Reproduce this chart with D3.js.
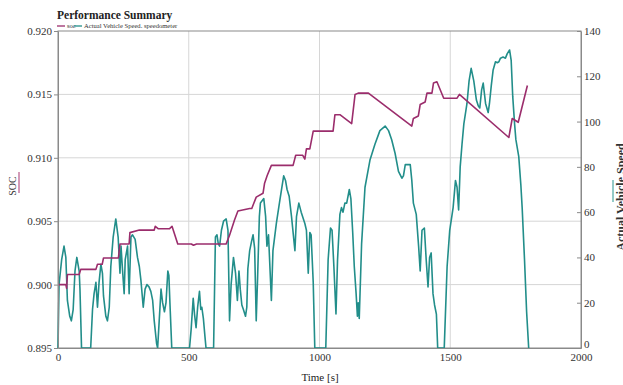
<!DOCTYPE html>
<html>
<head>
<meta charset="utf-8">
<script src="https://cdnjs.cloudflare.com/ajax/libs/d3/7.8.5/d3.min.js"></script>
<style>
  body { margin: 0; background: #fff; }
  svg { display: block; font-family: "Liberation Serif", "DejaVu Serif", serif; }
</style>
</head>
<body>
<script>
var width = 623,
    height = 385;

var margin = {top: 31, right: 42, bottom: 37, left: 58};
var plotW = width - margin.left - margin.right,
    plotH = height - margin.top - margin.bottom;

// SOC (state of charge) over time
var socTime = [0, 30, 33, 36, 81, 87, 145, 151, 169, 174, 231, 237, 272, 275, 311, 368, 372, 384, 426, 436,
  458, 510, 518, 530, 643, 656, 675, 688, 733, 741, 758, 784, 790, 800, 816, 899, 909, 936, 944, 950,
  963, 976, 1052, 1059, 1078, 1123, 1136, 1148, 1187, 1353, 1359, 1378, 1385, 1404, 1411, 1430, 1436, 1449, 1475, 1526,
  1535, 1724, 1737, 1760, 1795];
var socValue = [0.9000, 0.9000, 0.8997, 0.9008, 0.9008, 0.9012, 0.9012, 0.9016, 0.9016, 0.9021, 0.9021, 0.9032, 0.9032, 0.9041, 0.9043, 0.9043, 0.9046, 0.9044, 0.9044, 0.9046,
  0.9032, 0.9032, 0.9031, 0.9032, 0.9032, 0.9039, 0.9051, 0.9058, 0.9060, 0.9060, 0.9069, 0.9072, 0.9080, 0.9086, 0.9094, 0.9094, 0.9102, 0.9102, 0.9099, 0.9107,
  0.9107, 0.9121, 0.9121, 0.9134, 0.9134, 0.9127, 0.9150, 0.9151, 0.9151, 0.9125, 0.9131, 0.9133, 0.9142, 0.9144, 0.9151, 0.9151, 0.9159, 0.9160, 0.9147, 0.9147,
  0.9150, 0.9116, 0.9131, 0.9128, 0.9157];

// actual vehicle speed (speedometer)
var speedTime = [0, 4, 14, 23, 30, 36, 45, 51, 58, 65, 72, 81, 84, 90, 125, 132, 138, 145, 151, 157,
  164, 170, 174, 183, 189, 196, 202, 211, 221, 230, 237, 241, 247, 253, 257, 266, 272, 279, 285, 295,
  304, 311, 317, 326, 333, 340, 348, 355, 362, 368, 377, 381, 386, 394, 400, 407, 413, 420, 424, 428,
  435, 503, 509, 517, 522, 528, 534, 541, 546, 550, 556, 562, 566, 595, 602, 608, 613, 618, 625, 633,
  643, 650, 656, 662, 671, 679, 686, 692, 697, 703, 709, 717, 722, 726, 733, 740, 746, 752, 758, 763,
  770, 774, 787, 794, 799, 805, 816, 822, 835, 848, 863, 870, 876, 884, 893, 906, 912, 921, 930, 944,
  950, 957, 963, 968, 976, 982, 1024, 1033, 1042, 1048, 1055, 1063, 1069, 1078, 1084, 1090, 1097, 1104, 1114, 1120,
  1127, 1133, 1140, 1145, 1148, 1152, 1161, 1174, 1193, 1212, 1231, 1251, 1264, 1276, 1289, 1302, 1315, 1321, 1328, 1347,
  1353, 1359, 1370, 1379, 1385, 1392, 1401, 1408, 1415, 1421, 1427, 1434, 1440, 1447, 1452, 1477, 1488, 1498, 1511, 1520,
  1526, 1532, 1538, 1545, 1552, 1564, 1572, 1580, 1590, 1600, 1607, 1613, 1620, 1626, 1631, 1635, 1645, 1650, 1657, 1664,
  1673, 1680, 1686, 1692, 1702, 1711, 1718, 1727, 1733, 1739, 1746, 1751, 1762, 1770, 1775, 1784, 1792, 1800];
var speedValue = [0, 28, 39, 45, 40, 21, 14, 12, 17, 34, 40, 34, 26, 0, 0, 17, 24, 29, 18, 29,
  37, 33, 23, 14, 12, 18, 36, 49, 57, 49, 33, 45, 34, 24, 39, 45, 24, 49, 50, 48,
  40, 36, 30, 18, 26, 28, 27, 25, 21, 12, 2, 0, 10, 26, 20, 16, 20, 34, 32, 20,
  0, 0, 8, 22, 15, 9, 18, 25, 17, 18, 13, 5, 0, 0, 49, 50, 46, 45, 52, 56,
  57, 52, 12, 28, 40, 33, 21, 34, 26, 19, 17, 14, 18, 35, 43, 47, 50, 44, 12, 30,
  58, 64, 66, 58, 45, 50, 21, 43, 55, 65, 76, 74, 70, 67, 58, 43, 58, 64, 60, 55,
  52, 33, 51, 50, 29, 0, 0, 39, 53, 52, 36, 15, 39, 59, 62, 60, 64, 64, 70, 66,
  51, 36, 24, 14, 20, 13, 46, 71, 83, 90, 96, 98, 96, 92, 86, 78, 75, 76, 81, 81,
  74, 64, 59, 45, 34, 52, 53, 39, 27, 40, 42, 24, 19, 15, 0, 0, 36, 52, 62, 74,
  71, 61, 80, 90, 99, 108, 118, 123.5, 118, 109.5, 107, 106, 114, 117, 112, 108, 104, 108, 116, 122.8,
  126.4, 126, 126.4, 128, 128.5, 128, 130, 131.6, 127, 111, 99, 92, 84.5, 72, 62, 39, 16, 0];

var xTicks = [0, 500, 1000, 1500, 2000];
var socTicks = [0.895, 0.900, 0.905, 0.910, 0.915, 0.920];
var speedTicks = [0, 20, 40, 60, 80, 100, 120, 140];

var socColor = "#9b2d6c",
    speedColor = "#228e8a";

var svg = d3.select("body").append("svg")
    .attr("width", width)
    .attr("height", height);

var x = d3.scaleLinear().domain([0, 2000]).range([margin.left, margin.left + plotW]);
var ySoc = d3.scaleLinear().domain([0.895, 0.920]).range([margin.top + plotH, margin.top]);
var ySpeed = d3.scaleLinear().domain([0, 140]).range([margin.top + plotH, margin.top]);

// grid
var grid = svg.append("g").attr("class", "grid");
grid.selectAll("line.v")
    .data(xTicks.slice(1, -1))
    .enter().append("line")
    .attr("x1", function(d) { return x(d); })
    .attr("x2", function(d) { return x(d); })
    .attr("y1", margin.top)
    .attr("y2", margin.top + plotH)
    .attr("stroke", "#d6d6d6");
grid.selectAll("line.h")
    .data(socTicks.slice(1, -1))
    .enter().append("line")
    .attr("x1", margin.left)
    .attr("x2", margin.left + plotW)
    .attr("y1", function(d) { return ySoc(d); })
    .attr("y2", function(d) { return ySoc(d); })
    .attr("stroke", "#d6d6d6");

// frame
svg.append("rect")
    .attr("x", margin.left)
    .attr("y", margin.top)
    .attr("width", plotW)
    .attr("height", plotH)
    .attr("fill", "none")
    .attr("stroke", "#8a8a8a");

// lines
var speedData = speedTime.map(function(t, i) { return [t, speedValue[i]]; });
var socData = socTime.map(function(t, i) { return [t, socValue[i]]; });

svg.append("path")
    .datum(speedData)
    .attr("fill", "none")
    .attr("stroke", speedColor)
    .attr("stroke-width", 1.6)
    .attr("stroke-linejoin", "round")
    .attr("d", d3.line()
        .x(function(d) { return x(d[0]); })
        .y(function(d) { return ySpeed(d[1]); }));

svg.append("path")
    .datum(socData)
    .attr("fill", "none")
    .attr("stroke", socColor)
    .attr("stroke-width", 1.6)
    .attr("stroke-linejoin", "round")
    .attr("d", d3.line()
        .x(function(d) { return x(d[0]); })
        .y(function(d) { return ySoc(d[1]); }));

// axes
function styleAxis(g) {
    g.attr("font-family", "Liberation Serif, serif").attr("font-size", 11);
    g.select(".domain").attr("stroke", "#8a8a8a");
    g.selectAll(".tick line").attr("stroke", "#8a8a8a");
    g.selectAll(".tick text").attr("fill", "#333");
}

svg.append("g")
    .attr("transform", "translate(" + margin.left + ",0)")
    .call(d3.axisLeft(ySoc).tickValues(socTicks).tickFormat(d3.format(".3f")).tickSize(4).tickSizeOuter(0).tickPadding(2))
    .call(styleAxis);

svg.append("g")
    .attr("transform", "translate(0," + (margin.top + plotH) + ")")
    .call(d3.axisBottom(x).tickValues(xTicks).tickFormat(d3.format("d")).tickSize(0).tickSizeOuter(0).tickPadding(5))
    .call(styleAxis);

var rightAxis = svg.append("g")
    .attr("transform", "translate(" + (margin.left + plotW) + ",0)")
    .call(d3.axisRight(ySpeed).tickValues(speedTicks).tickSize(-4).tickSizeOuter(0).tickPadding(3))
    .call(styleAxis);
// the 0 label sits just above the x-axis 2000 label
rightAxis.selectAll(".tick text")
    .filter(function(d) { return d === 0; })
    .attr("dy", "-0.05em");

// title and legend
svg.append("text")
    .attr("x", 57)
    .attr("y", 19)
    .attr("font-size", 11.5)
    .attr("font-weight", "bold")
    .attr("fill", "#222")
    .text("Performance Summary");

var legend = [
    {label: "soc", color: socColor, x: 57},
    {label: "Actual Vehicle Speed. speedometer", color: speedColor, x: 74}
];
var lg = svg.append("g").selectAll("g")
    .data(legend)
    .enter().append("g")
    .attr("transform", function(d) { return "translate(" + d.x + ",26)"; });
lg.append("line")
    .attr("x1", 0).attr("x2", 8)
    .attr("stroke", function(d) { return d.color; })
    .attr("stroke-width", 1.3);
lg.append("text")
    .attr("x", 10)
    .attr("dy", "0.3em")
    .attr("font-size", 6.6)
    .attr("fill", "#333")
    .text(function(d) { return d.label; });

// axis titles
svg.append("text")
    .attr("x", 320)
    .attr("y", 381)
    .attr("text-anchor", "middle")
    .attr("font-size", 11)
    .attr("fill", "#222")
    .text("Time [s]");

svg.append("text")
    .attr("transform", "translate(16,186) rotate(-90)")
    .attr("text-anchor", "middle")
    .attr("font-size", 10)
    .attr("fill", "#333")
    .text("SOC");
svg.append("line")
    .attr("x1", 19).attr("x2", 19)
    .attr("y1", 172).attr("y2", 193)
    .attr("stroke", "#c47aa0")
    .attr("stroke-width", 1.5);

svg.append("text")
    .attr("transform", "translate(625,197) rotate(-90)")
    .attr("text-anchor", "middle")
    .attr("font-size", 12)
    .attr("font-weight", "bold")
    .attr("fill", "#333")
    .text("Actual Vehicle Speed");
svg.append("line")
    .attr("x1", 613).attr("x2", 613)
    .attr("y1", 180).attr("y2", 202)
    .attr("stroke", "#6fb8b4")
    .attr("stroke-width", 1.5);
</script>
</body>
</html>
